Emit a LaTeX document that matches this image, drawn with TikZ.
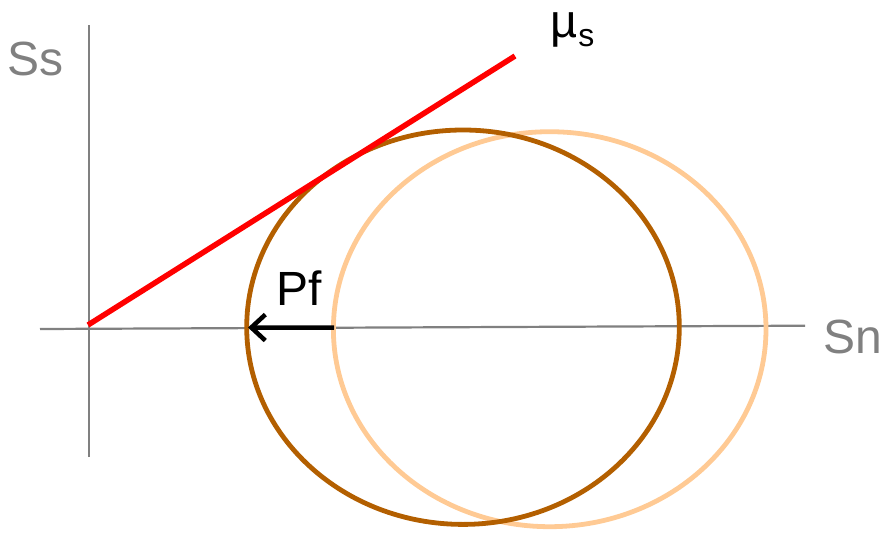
\documentclass[tikz,border=0pt]{standalone}
\usepackage{fontspec}
\setmainfont{Liberation Sans}
\usetikzlibrary{arrows.meta}
\definecolor{axisgray}{RGB}{128,128,128}
\definecolor{darkbrown}{RGB}{179,95,0}
\definecolor{lightorange}{RGB}{255,202,148}
\definecolor{mured}{RGB}{255,0,0}
\tikzset{
  axis/.style={draw=axisgray, line width=2.2pt},
  axislabel/.style={inner sep=0pt, anchor=base west, text=axisgray, font=\fontsize{48}{48}\selectfont},
  blacklabel/.style={inner sep=0pt, anchor=base west, text=black, font=\fontsize{48}{48}\selectfont},
  circdark/.style={draw=darkbrown, line width=4.8pt},
  circlight/.style={draw=lightorange, line width=4.8pt},
  mohrline/.style={draw=mured, line width=5.5pt},
  shiftarrow/.style={draw=black, line width=4.5pt, -{Straight Barb[length=14pt,width=26pt]}}
}
\begin{document}
\begin{tikzpicture}[x=1pt,y=-1pt]
\useasboundingbox (0,0) rectangle (894,535);
% axes
\coordinate (yb) at (89,457);
\coordinate (yt) at (89,25);
\coordinate (xl) at (40,329);
\coordinate (xr) at (805,325.7);
\draw[axis] (yb) -- (yt);
\draw[axis] (xl) -- (xr);
% circles
\draw[circlight] (549.7,329.2) ellipse [x radius=216.3pt, y radius=197.5pt];
\draw[circdark] (463,327.2) ellipse [x radius=216.3pt, y radius=197.2pt];
% failure line
\coordinate (ls) at (88,325);
\coordinate (le) at (515,56);
\draw[mohrline] (ls) -- (le);
% shift arrow
\coordinate (pfs) at (334,327.7);
\coordinate (pfe) at (248,327.5);
\draw[shiftarrow] (pfs) -- (pfe);
% labels
\node[axislabel] (ss) at (7,75) {Ss};
\node[axislabel] (sn) at (823,353) {Sn};
\node[blacklabel] (pf) at (276,305) {Pf};
\node[inner sep=0pt, anchor=base west, font=\fontsize{47}{47}\selectfont] (mu) at (550,38) {µ\kern1pt\raisebox{-9pt}{\fontsize{32}{32}\selectfont s}};
\end{tikzpicture}
\end{document}
